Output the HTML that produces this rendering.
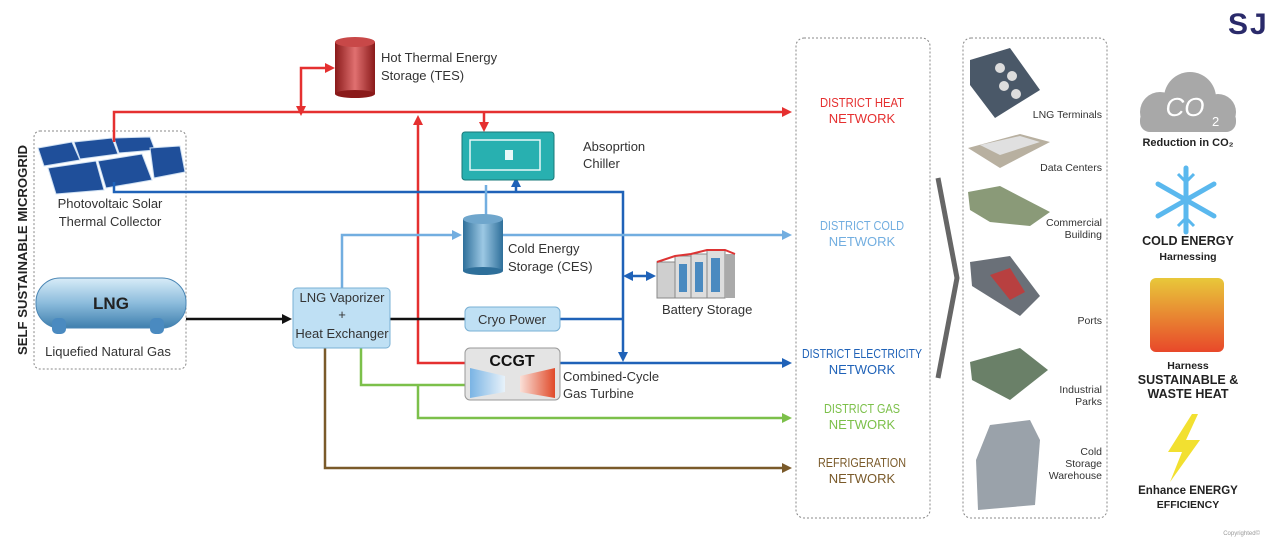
<!DOCTYPE html>
<html><head><meta charset="utf-8"><style>
html,body{margin:0;padding:0;background:#fff;}
svg{display:block;}
text{font-family:"Liberation Sans Narrow","Liberation Sans",sans-serif;}
.lb{font-size:13px;fill:#333;}
.nw{font-size:13px;text-anchor:middle;}
.sm{font-size:10.5px;fill:#333;text-anchor:end;}
.ic{font-family:"Liberation Sans",sans-serif;font-weight:bold;fill:#222;text-anchor:middle;}
</style></head><body>
<svg width="1280" height="548" viewBox="0 0 1280 548" xmlns="http://www.w3.org/2000/svg">
<defs>
<marker id="ar" markerWidth="10" markerHeight="10" refX="7" refY="5" orient="auto" markerUnits="userSpaceOnUse"><path d="M0,0 L10,5 L0,10 Z" fill="context-stroke"/></marker>
<marker id="ar2" markerWidth="10" markerHeight="10" refX="3" refY="5" orient="auto-start-reverse" markerUnits="userSpaceOnUse"><path d="M0,0 L10,5 L0,10 Z" fill="context-stroke"/></marker>
<linearGradient id="cylr" x1="0" x2="1"><stop offset="0" stop-color="#8a1a1a"/><stop offset=".5" stop-color="#e07070"/><stop offset="1" stop-color="#8a1a1a"/></linearGradient>
<linearGradient id="cylb" x1="0" x2="1"><stop offset="0" stop-color="#2e6f9a"/><stop offset=".5" stop-color="#9cc8e4"/><stop offset="1" stop-color="#2e6f9a"/></linearGradient>
<linearGradient id="tank" x1="0" y1="0" x2="0" y2="1"><stop offset="0" stop-color="#d8ecf8"/><stop offset=".5" stop-color="#8cbcdc"/><stop offset="1" stop-color="#3f7fae"/></linearGradient>
<linearGradient id="heat" x1="0" y1="0" x2="0" y2="1"><stop offset="0" stop-color="#e8c83a"/><stop offset="1" stop-color="#e8482a"/></linearGradient>
<linearGradient id="tb" x1="0" x2="1"><stop offset="0" stop-color="#7ab4e4"/><stop offset="1" stop-color="#e8f2fa"/></linearGradient>
<linearGradient id="tr" x1="0" x2="1"><stop offset="0" stop-color="#fae0d8"/><stop offset="1" stop-color="#e04a2a"/></linearGradient>
</defs>

<text x="1228" y="34" font-family="Liberation Sans,sans-serif" font-size="30" font-weight="bold" fill="#2a2a6a">S</text>
<text x="1250" y="34" font-family="Liberation Sans,sans-serif" font-size="30" font-weight="bold" fill="#2a2a6a">J</text>

<rect x="34" y="131" width="152" height="238" rx="6" fill="none" stroke="#888" stroke-dasharray="2,2"/>
<text transform="translate(27,250) rotate(-90)" text-anchor="middle" font-size="13" fill="#222" font-weight="bold" textLength="210" lengthAdjust="spacingAndGlyphs">SELF SUSTAINABLE MICROGRID</text>

<g fill="#1f4f9a" stroke="#cfe0f2" stroke-width="1">
<polygon points="38,148 72,142 80,160 44,166"/><polygon points="74,142 112,138 118,154 80,159"/><polygon points="114,138 150,137 155,150 119,153"/>
<polygon points="48,168 96,161 104,190 56,194"/><polygon points="98,161 142,154 152,180 106,188"/><polygon points="150,148 180,146 185,172 154,178"/>
</g>
<text class="lb" x="110" y="208" text-anchor="middle">Photovoltaic Solar</text>
<text class="lb" x="110" y="226" text-anchor="middle">Thermal Collector</text>

<rect x="36" y="278" width="150" height="50" rx="24" fill="url(#tank)" stroke="#4a86b4"/>
<rect x="52" y="318" width="14" height="16" rx="5" fill="#4a8ac0"/>
<rect x="150" y="318" width="14" height="16" rx="5" fill="#4a8ac0"/>
<text x="111" y="309" text-anchor="middle" font-size="17" font-weight="bold" fill="#222">LNG</text>
<text class="lb" x="108" y="356" text-anchor="middle">Liquefied Natural Gas</text>

<g fill="none" stroke-width="2.5">
<path d="M114,142 V112 H789" stroke="#e53030" marker-end="url(#ar)"/>
<path d="M301,109 V68 H332" stroke="#e53030" marker-end="url(#ar)" marker-start="url(#ar2)"/>
<path d="M465,363 H418 V118" stroke="#e53030" marker-end="url(#ar)"/>
<path d="M484,112 V129" stroke="#e53030" marker-end="url(#ar)"/>
<path d="M114,182 V192 H623 V359" stroke="#1f62b8" marker-end="url(#ar)"/>
<path d="M516,192 V180" stroke="#1f62b8" marker-end="url(#ar)"/>
<path d="M560,319 H623" stroke="#1f62b8"/>
<path d="M560,363 H789" stroke="#1f62b8" marker-end="url(#ar)"/>
<path d="M630,276 H653" stroke="#1f62b8" marker-end="url(#ar)" marker-start="url(#ar2)"/>
<path d="M342,288 V235 H459" stroke="#72aee0" marker-end="url(#ar)"/>
<path d="M503,235 H789" stroke="#72aee0" marker-end="url(#ar)"/>
<path d="M486,185 V216" stroke="#72aee0"/>
<path d="M186,319 H289" stroke="#111" marker-end="url(#ar)"/>
<path d="M390,319 H465" stroke="#111"/>
<path d="M361,348 V385 H465" stroke="#7cc04a"/>
<path d="M418,385 V418 H789" stroke="#7cc04a" marker-end="url(#ar)"/>
<path d="M325,348 V468 H789" stroke="#7a5a2a" marker-end="url(#ar)"/>
</g>

<rect x="335" y="42" width="40" height="52" fill="url(#cylr)"/>
<ellipse cx="355" cy="94" rx="20" ry="4" fill="#8a1a1a"/>
<ellipse cx="355" cy="42" rx="20" ry="5" fill="#c84848"/>
<text class="lb" x="381" y="62">Hot Thermal Energy</text>
<text class="lb" x="381" y="80">Storage (TES)</text>

<rect x="462" y="132" width="92" height="48" rx="3" fill="#28b0b0" stroke="#1a7878"/>
<rect x="470" y="140" width="70" height="30" fill="none" stroke="#e8f8f8" stroke-width="1.5"/>
<rect x="505" y="150" width="8" height="10" fill="#e8f8f8"/>
<text class="lb" x="583" y="151">Absoprtion</text>
<text class="lb" x="583" y="168">Chiller</text>

<rect x="463" y="219" width="40" height="52" fill="url(#cylb)"/>
<ellipse cx="483" cy="271" rx="20" ry="4" fill="#2e6f9a"/>
<ellipse cx="483" cy="219" rx="20" ry="5" fill="#6fa6cc"/>
<text class="lb" x="508" y="253">Cold Energy</text>
<text class="lb" x="508" y="271">Storage (CES)</text>

<g>
<rect x="657" y="262" width="18" height="36" fill="#cfcfcf" stroke="#888"/>
<rect x="675" y="256" width="16" height="42" fill="#ddd" stroke="#888"/>
<rect x="691" y="254" width="16" height="44" fill="#ddd" stroke="#888"/>
<rect x="707" y="250" width="18" height="48" fill="#ddd" stroke="#888"/>
<rect x="725" y="254" width="10" height="44" fill="#aaa"/>
<g fill="#4a8ac0"><rect x="679" y="264" width="8" height="28"/><rect x="695" y="262" width="8" height="30"/><rect x="711" y="258" width="9" height="34"/></g>
<path d="M657,262 L675,256 L691,254 L707,250 L725,250 L735,254" stroke="#d33" stroke-width="2" fill="none"/>
</g>
<text class="lb" x="662" y="314">Battery Storage</text>

<rect x="293" y="288" width="97" height="60" rx="4" fill="#bfe0f4" stroke="#7ab0d4"/>
<text class="lb" x="342" y="302" text-anchor="middle">LNG Vaporizer</text>
<text class="lb" x="342" y="319" text-anchor="middle">+</text>
<text class="lb" x="342" y="338" text-anchor="middle">Heat Exchanger</text>

<rect x="465" y="307" width="95" height="24" rx="5" fill="#bfe0f4" stroke="#7ab0d4"/>
<text class="lb" x="512" y="324" text-anchor="middle">Cryo Power</text>

<rect x="465" y="348" width="95" height="52" rx="5" fill="#e4e4e4" stroke="#999"/>
<text x="512" y="366" text-anchor="middle" font-size="16" font-weight="bold" fill="#111">CCGT</text>
<polygon points="470,368 505,376 505,392 470,398" fill="url(#tb)"/>
<polygon points="520,376 555,368 555,398 520,392" fill="url(#tr)"/>
<text class="lb" x="563" y="381">Combined-Cycle</text>
<text class="lb" x="563" y="398">Gas Turbine</text>

<rect x="796" y="38" width="134" height="480" rx="8" fill="none" stroke="#888" stroke-dasharray="2,2"/>
<text class="nw" x="862" y="107" fill="#e53030" textLength="84" lengthAdjust="spacingAndGlyphs">DISTRICT HEAT</text>
<text class="nw" x="862" y="123" fill="#e53030">NETWORK</text>
<text class="nw" x="862" y="230" fill="#72aee0" textLength="84" lengthAdjust="spacingAndGlyphs">DISTRICT COLD</text>
<text class="nw" x="862" y="246" fill="#72aee0">NETWORK</text>
<text class="nw" x="862" y="358" fill="#1f62b8" textLength="120" lengthAdjust="spacingAndGlyphs">DISTRICT ELECTRICITY</text>
<text class="nw" x="862" y="374" fill="#1f62b8">NETWORK</text>
<text class="nw" x="862" y="413" fill="#7cc04a" textLength="76" lengthAdjust="spacingAndGlyphs">DISTRICT GAS</text>
<text class="nw" x="862" y="429" fill="#7cc04a">NETWORK</text>
<text class="nw" x="862" y="467" fill="#7a5a2a" textLength="88" lengthAdjust="spacingAndGlyphs">REFRIGERATION</text>
<text class="nw" x="862" y="483" fill="#7a5a2a">NETWORK</text>

<path d="M938,178 L957,278 L938,378" fill="none" stroke="#666" stroke-width="5"/>

<rect x="963" y="38" width="144" height="480" rx="8" fill="none" stroke="#888" stroke-dasharray="2,2"/>
<polygon points="970,60 1010,48 1040,90 995,118 970,85" fill="#4a5868"/>
<g fill="#ddd"><circle cx="1000" cy="68" r="5"/><circle cx="1012" cy="76" r="5"/><circle cx="1004" cy="86" r="5"/><circle cx="1016" cy="94" r="5"/></g>
<text class="sm" x="1102" y="118">LNG Terminals</text>
<polygon points="968,148 1020,134 1050,142 1000,168" fill="#b8b0a0"/><polygon points="980,145 1020,136 1040,142 1000,155" fill="#e0e0e0"/>
<text class="sm" x="1102" y="171">Data Centers</text>
<polygon points="968,192 1000,186 1050,212 1030,226 990,222 970,210" fill="#8a9a78"/>
<text class="sm" x="1102" y="226">Commercial</text><text class="sm" x="1102" y="238">Building</text>
<polygon points="970,262 1010,256 1040,296 1020,316 972,286" fill="#6a7078"/><polygon points="990,275 1010,268 1025,292 1010,300" fill="#b84040"/>
<text class="sm" x="1102" y="324">Ports</text>
<polygon points="970,362 1020,348 1048,370 1010,400 972,380" fill="#6a8068"/>
<text class="sm" x="1102" y="393">Industrial</text><text class="sm" x="1102" y="405">Parks</text>
<polygon points="990,425 1030,420 1040,440 1035,505 978,510 976,460" fill="#9aa2aa"/>
<text class="sm" x="1102" y="455">Cold</text><text class="sm" x="1102" y="467">Storage</text><text class="sm" x="1102" y="479">Warehouse</text>

<g fill="#a8a8a8">
<circle cx="1160" cy="112" r="20"/><circle cx="1190" cy="98" r="26"/><circle cx="1218" cy="112" r="18"/><rect x="1140" y="110" width="96" height="22" rx="10"/>
</g>
<text x="1185" y="116" text-anchor="middle" font-family="Liberation Sans,sans-serif" font-size="26" font-style="italic" fill="#fff">CO</text>
<text x="1212" y="126" font-family="Liberation Sans,sans-serif" font-size="13" fill="#fff">2</text>
<text class="ic" x="1188" y="146" font-size="11">Reduction in CO₂</text>

<g stroke="#5ab8ee" stroke-width="5" stroke-linecap="round">
<line x1="1186" y1="168" x2="1186" y2="232"/><line x1="1158" y1="184" x2="1214" y2="216"/><line x1="1158" y1="216" x2="1214" y2="184"/>
</g>
<g stroke="#5ab8ee" stroke-width="3" fill="none"><path d="M1178,174 L1186,182 L1194,174"/><path d="M1178,226 L1186,218 L1194,226"/></g>
<text class="ic" x="1188" y="245" font-size="12.5">COLD ENERGY</text>
<text class="ic" x="1188" y="260" font-size="10.5">Harnessing</text>

<rect x="1150" y="278" width="74" height="74" rx="6" fill="url(#heat)"/>
<text class="ic" x="1188" y="369" font-size="10.5">Harness</text>
<text class="ic" x="1188" y="384" font-size="12.5">SUSTAINABLE &amp;</text>
<text class="ic" x="1188" y="398" font-size="12.5">WASTE HEAT</text>

<polygon points="1192,414 1168,452 1182,452 1170,482 1200,440 1186,440 1198,414" fill="#f2e030"/>
<text class="ic" x="1188" y="494" font-size="11.5">Enhance ENERGY</text>
<text class="ic" x="1188" y="508" font-size="10.5">EFFICIENCY</text>
<text x="1260" y="535" font-size="6" fill="#999" text-anchor="end" font-family="Liberation Sans,sans-serif">Copyrighted©</text>
</svg>
</body></html>
